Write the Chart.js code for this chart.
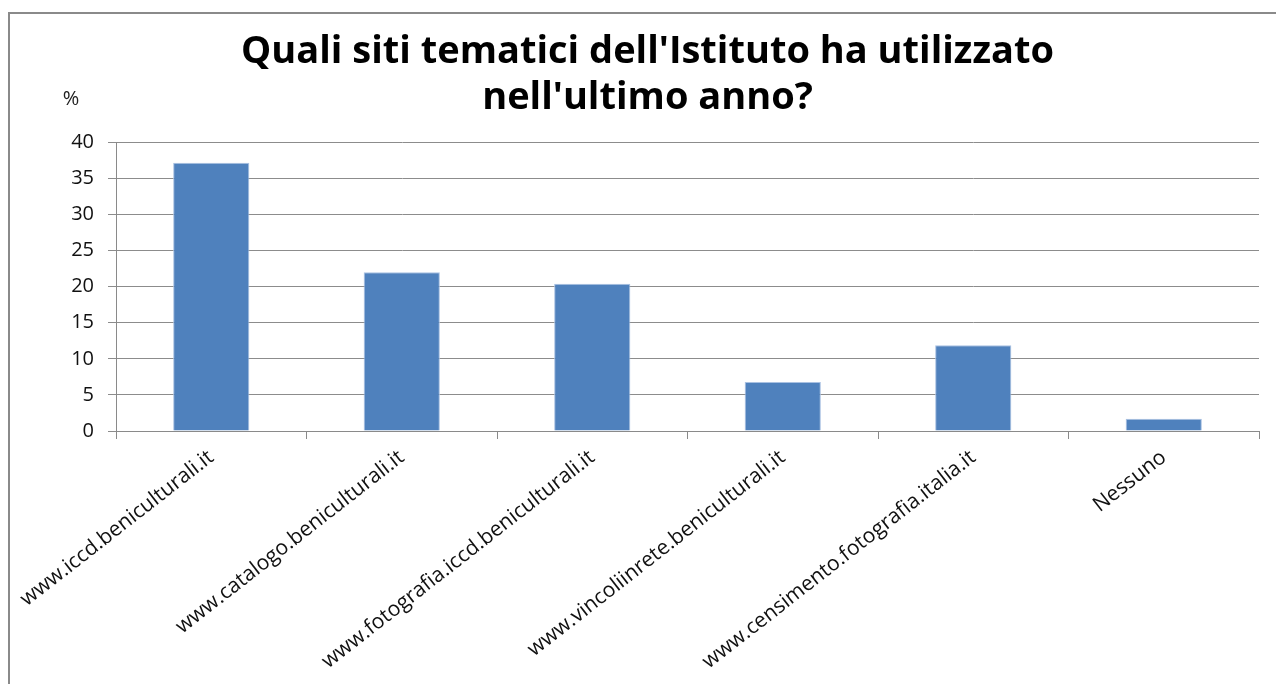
<!DOCTYPE html>
<html>
<head>
<meta charset="utf-8">
<script src="https://cdn.jsdelivr.net/npm/chart.js@4.4.0/dist/chart.umd.min.js"></script>
<style>
  html, body { margin: 0; padding: 0; background: #fff; }
  #wrap { width: 1276px; height: 684px; position: relative; }
</style>
</head>
<body>
<div id="wrap"><canvas id="mycanvas"></canvas></div>
<script>
var categories = ['www.iccd.beniculturali.it', 'www.catalogo.beniculturali.it', 'www.fotografia.iccd.beniculturali.it',
                  'www.vincoliinrete.beniculturali.it', 'www.censimento.fotografia.italia.it', 'Nessuno'];
var percentages = [37.2, 22.0, 20.4, 6.8, 11.9, 1.7];
var yTicks = [0, 5, 10, 15, 20, 25, 30, 35, 40];
var titleLines = ["Quali siti tematici dell'Istituto ha utilizzato", "nell'ultimo anno?"];
var unitLabel = '%';

var FONT = "'Open Sans', 'Noto Sans', sans-serif";

// frame round the chart and the "%" above the y axis
var extras = {
    id: 'extras',
    beforeDraw: function(chart) {
        var ctx = chart.ctx;
        ctx.save();
        ctx.fillStyle = '#fff';
        ctx.fillRect(0, 0, chart.width, chart.height);
        ctx.strokeStyle = '#8a8a8a';
        ctx.lineWidth = 2;
        ctx.beginPath();
        ctx.moveTo(9, chart.height + 5);
        ctx.lineTo(9, 13);
        ctx.lineTo(chart.width + 5, 13);
        ctx.stroke();
        ctx.restore();
    },
    afterDraw: function(chart) {
        var ctx = chart.ctx;
        ctx.save();
        ctx.fillStyle = '#222';
        ctx.font = '20px ' + FONT;
        ctx.textAlign = 'center';
        ctx.textBaseline = 'middle';
        ctx.fillText(unitLabel, chart.chartArea.left - 45, 99);
        ctx.restore();
    }
};

var chardata = {
    labels: categories,
    datasets: [
        {
            label: '%',
            backgroundColor: '#4F81BD',
            borderColor: '#A9C1E2',
            borderWidth: 1,
            barPercentage: 0.4,
            categoryPercentage: 1.0,
            data: percentages
        }
    ]
};

var graph = new Chart(document.getElementById('mycanvas'), {
    type: 'bar',
    data: chardata,
    plugins: [extras],
    options: {
        responsive: true,
        maintainAspectRatio: false,
        animation: false,
        layout: { padding: { left: 36, right: 17, top: 0, bottom: 0 } },
        plugins: {
            legend: { display: false },
            tooltip: { enabled: false },
            title: {
                display: true,
                text: titleLines,
                color: '#000',
                font: { family: FONT, size: 38, weight: 'bold', lineHeight: 1.19 },
                padding: { top: 30, bottom: 22 }
            }
        },
        scales: {
            x: {
                offset: true,
                afterFit: function(s) { s.height = 253; },
                grid: { offset: true, drawOnChartArea: false, color: '#8a8a8a', tickLength: 8 },
                border: { color: '#8a8a8a' },
                ticks: {
                    color: '#111',
                    font: { family: FONT, size: 21 },
                    maxRotation: 38,
                    minRotation: 38,
                    autoSkip: false,
                    padding: 6
                }
            },
            y: {
                min: 0,
                max: 40,
                afterFit: function(s) { s.width = 80; },
                afterBuildTicks: function(s) { s.ticks = yTicks.map(function(v) { return { value: v }; }); },
                grid: { color: '#8c8c8c', tickLength: 8 },
                border: { color: '#8a8a8a' },
                ticks: {
                    color: '#111',
                    font: { family: FONT, size: 20 },
                    padding: 14
                }
            }
        }
    }
});
</script>
</body>
</html>
